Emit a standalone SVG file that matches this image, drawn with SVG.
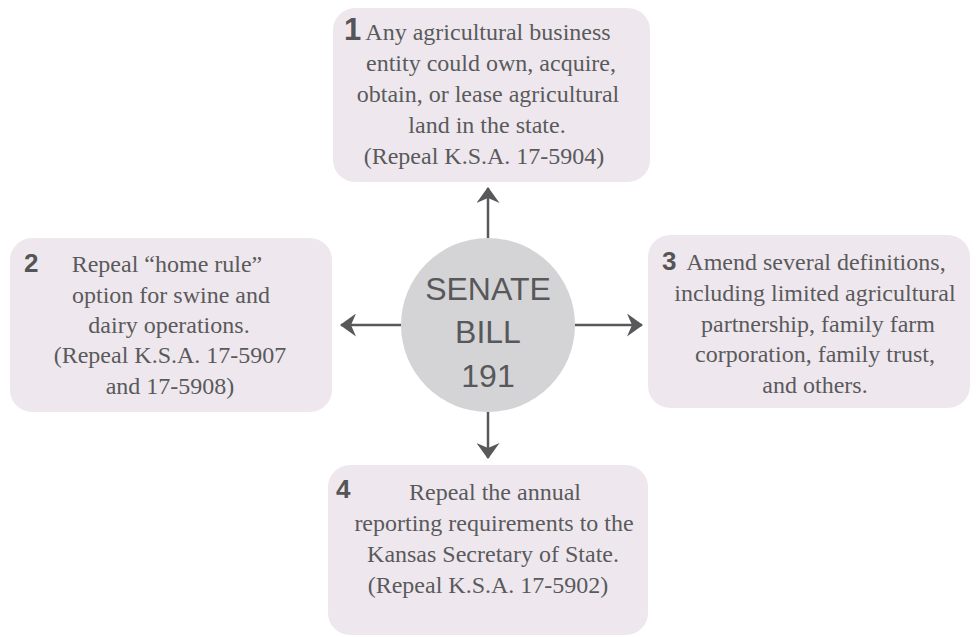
<svg xmlns="http://www.w3.org/2000/svg" width="976" height="637" viewBox="0 0 976 637">
<style>
.box{fill:#eee8ee;}
.t{font-family:"Liberation Serif","Times New Roman",serif;font-size:24px;fill:#5a5a5c;text-anchor:middle;}
.n{font-family:"Liberation Sans",Arial,sans-serif;font-weight:bold;font-size:26px;fill:#555557;}
.c{font-family:"Liberation Sans",Arial,sans-serif;font-size:32px;fill:#58585a;text-anchor:middle;}
.ln{stroke:#58585a;stroke-width:2.5;fill:none;marker-end:url(#ah);}
</style>
<defs>
<marker id="ah" viewBox="0 0 16 23" refX="15" refY="11.5" markerWidth="16" markerHeight="23" markerUnits="userSpaceOnUse" orient="auto">
<path d="M0,0 L16,11.5 L0,23 L5,11.5 Z" fill="#58585a"/>
</marker>
</defs>
<rect width="976" height="637" fill="#ffffff"/>
<g id="connectors">
<line class="ln" x1="488" y1="238" x2="488" y2="188"/>
<line class="ln" x1="575" y1="325" x2="642" y2="325"/>
<line class="ln" x1="401" y1="325" x2="341" y2="325"/>
<line class="ln" x1="488" y1="412" x2="488" y2="458"/>
</g>
<g id="node1">
<rect class="box" x="333" y="8" width="317" height="174" rx="22"/>
<text class="n" x="344" y="40" style="font-size:31px">1</text>
<text class="t" x="488" y="40">Any agricultural business</text>
<text class="t" x="491" y="71">entity could own, acquire,</text>
<text class="t" x="488" y="102">obtain, or lease agricultural</text>
<text class="t" x="487" y="133">land in the state.</text>
<text class="t" x="484" y="164">(Repeal K.S.A. 17-5904)</text>
</g>
<g id="node2">
<rect class="box" x="10" y="238" width="322" height="174" rx="22"/>
<text class="n" x="24" y="272">2</text>
<text class="t" x="167" y="272">Repeal “home rule”</text>
<text class="t" x="171" y="303">option for swine and</text>
<text class="t" x="169" y="333">dairy operations.</text>
<text class="t" x="170" y="363">(Repeal K.S.A. 17-5907</text>
<text class="t" x="170" y="394">and 17-5908)</text>
</g>
<g id="node3">
<rect class="box" x="648" y="235" width="322" height="173" rx="22"/>
<text class="n" x="662" y="270">3</text>
<text class="t" x="816" y="270">Amend several definitions,</text>
<text class="t" x="815" y="301">including limited agricultural</text>
<text class="t" x="818" y="332">partnership, family farm</text>
<text class="t" x="815" y="362">corporation, family trust,</text>
<text class="t" x="815" y="393">and others.</text>
</g>
<g id="node4">
<rect class="box" x="328" y="465" width="320" height="170" rx="22"/>
<text class="n" x="336" y="498">4</text>
<text class="t" x="495" y="500">Repeal the annual</text>
<text class="t" x="494" y="531">reporting requirements to the</text>
<text class="t" x="493" y="562">Kansas Secretary of State.</text>
<text class="t" x="488" y="593">(Repeal K.S.A. 17-5902)</text>
</g>
<g id="center">
<circle cx="488" cy="325" r="87" fill="#d4d4d6"/>
<text class="c" x="488" y="300">SENATE</text>
<text class="c" x="488" y="343">BILL</text>
<text class="c" x="488" y="387">191</text>
</g>
</svg>
